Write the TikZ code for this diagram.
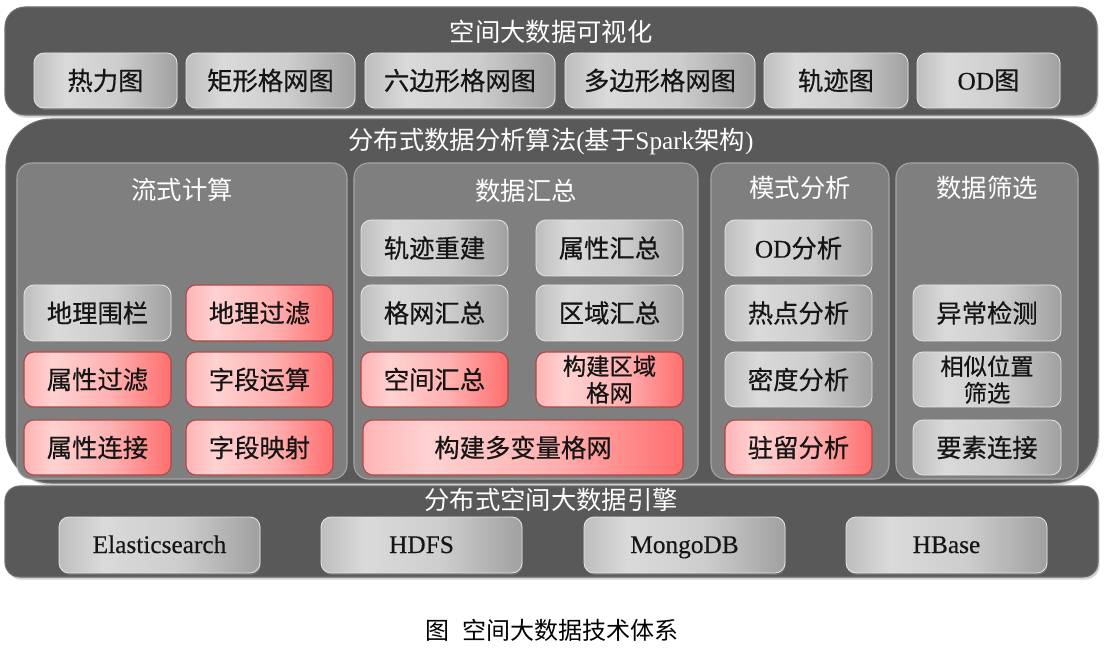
\documentclass[tikz,border=0pt]{standalone}
\usepackage{fontspec}
\setmainfont{Noto Sans CJK SC}
\newfontfamily\lat{Liberation Serif}
\newfontfamily\latb{Liberation Serif}[FakeBold=0.4]
\newfontfamily\btnf{Noto Sans CJK SC}[FakeBold=0.5]
\newfontfamily\song{Noto Sans CJK SC}
\usetikzlibrary{shadows}
\definecolor{panelc}{HTML}{595959}
\definecolor{panelb}{HTML}{6E6E6E}
\definecolor{subc}{HTML}{7F7F7F}
\definecolor{subb}{HTML}{A6A6A6}
\definecolor{gA}{HTML}{BEBEBE}
\definecolor{gB}{HTML}{DADADA}
\definecolor{gC}{HTML}{CDCDCD}
\definecolor{gD}{HTML}{A0A0A0}
\definecolor{gbord}{HTML}{E6E6E6}
\definecolor{rA}{HTML}{FFB4B4}
\definecolor{rB}{HTML}{FFD2D2}
\definecolor{rC}{HTML}{FFB0B0}
\definecolor{rD}{HTML}{FF6E6E}
\definecolor{rbord}{HTML}{B04545}
\definecolor{txt}{HTML}{151515}
\pgfdeclarehorizontalshading{gshade}{100bp}{color(0bp)=(gA); color(25bp)=(gA); color(36bp)=(gB); color(55bp)=(gC); color(75bp)=(gD); color(100bp)=(gD)}
\pgfdeclarehorizontalshading{rshade}{100bp}{color(0bp)=(rA); color(25bp)=(rA); color(35bp)=(rB); color(55bp)=(rC); color(75bp)=(rD); color(100bp)=(rD)}
\newcommand{\bx}[6]{\node[#1, minimum width={(#5-#3)*0.75pt}, minimum height={(#6-#4)*0.75pt}] (#2) at ({(#3+#5)/2},{(#4+#6)/2})}
\tikzset{
  panel/.style={draw=panelb, line width=0.8pt, fill=panelc, inner sep=0pt,
    drop shadow={opacity=0.35, shadow xshift=1.2pt, shadow yshift=-2pt}},
  subpanel/.style={draw=subb, line width=0.8pt, fill=subc, rounded corners=11pt, inner sep=0pt},
  btn/.style={rounded corners=7.5pt, inner sep=0pt, align=center, text=txt,
    font=\btnf\fontsize{19pt}{22pt}\selectfont,
    drop shadow={opacity=0.55, shadow xshift=0.6pt, shadow yshift=-1.5pt}},
  gbtn/.style={btn, shading=gshade, draw=gbord, line width=0.6pt},
  rbtn/.style={btn, shading=rshade, draw=rbord, line width=0.8pt},
  twoline/.style={font=\btnf\fontsize{17.5pt}{22pt}\selectfont},
  latbtn/.style={gbtn, font=\latb\fontsize{19pt}{22pt}\selectfont, text height=13pt, text depth=1pt},
  ttl/.style={text=white, inner sep=0pt, font=\fontsize{19pt}{22pt}\selectfont},
}
\begin{document}
\begin{tikzpicture}[x=0.75pt,y=-0.75pt]
\useasboundingbox (0,0) rectangle (1106,655);
\fill[white] (0,0) rectangle (1106,655);
% ---------- top panel ----------
\bx{panel, rounded corners=15pt}{toppanel}{5}{7}{1097}{115} {};
\node[ttl] (toptitle) at (551,32) {空间大数据可视化};
\bx{gbtn}{v1}{34}{53}{177}{108} {热力图};
\bx{gbtn}{v2}{186}{53}{355}{108} {矩形格网图};
\bx{gbtn}{v3}{365}{53}{555}{108} {六边形格网图};
\bx{gbtn}{v4}{565}{53}{755}{108} {多边形格网图};
\bx{gbtn}{v5}{764}{53}{908}{108} {轨迹图};
\bx{gbtn}{v6}{917}{53}{1060}{108} {{\latb OD}图};
% ---------- middle panel ----------
\bx{panel, rounded corners=34pt}{midpanel}{6}{119}{1098}{483} {};
\node[ttl] (midtitle) at (551,141) {分布式数据分析算法{\lat (}基于{\lat Spark}架构{\lat )}};
\bx{subpanel}{subA}{17}{163}{347}{479} {};
\bx{subpanel}{subB}{354}{163}{698}{479} {};
\bx{subpanel}{subC}{711}{163}{889}{479} {};
\bx{subpanel}{subD}{896}{163}{1078}{479} {};
\node[ttl] (titA) at (182,190) {流式计算};
\node[ttl] (titB) at (526,191) {数据汇总};
\node[ttl] (titC) at (800,188) {模式分析};
\node[ttl] (titD) at (987,188) {数据筛选};
% stream computing
\bx{gbtn}{a1}{24}{285}{171}{341} {地理围栏};
\bx{rbtn}{a2}{186}{285}{333}{341} {地理过滤};
\bx{rbtn}{a3}{24}{352}{171}{407} {属性过滤};
\bx{rbtn}{a4}{186}{352}{333}{407} {字段运算};
\bx{rbtn}{a5}{24}{420}{171}{475} {属性连接};
\bx{rbtn}{a6}{186}{420}{333}{475} {字段映射};
% data summary
\bx{gbtn}{b1}{361}{220}{508}{276} {轨迹重建};
\bx{gbtn}{b2}{536}{220}{683}{276} {属性汇总};
\bx{gbtn}{b3}{361}{285}{508}{341} {格网汇总};
\bx{gbtn}{b4}{536}{285}{683}{341} {区域汇总};
\bx{rbtn}{b5}{361}{352}{508}{407} {空间汇总};
\bx{rbtn, twoline}{b6}{536}{352}{683}{407} {构建区域\\[-2pt]格网};
\bx{rbtn}{b7}{363}{420}{683}{475} {构建多变量格网};
% pattern analysis
\bx{gbtn}{c1}{725}{220}{872}{276} {{\latb OD}分析};
\bx{gbtn}{c2}{725}{285}{872}{341} {热点分析};
\bx{gbtn}{c3}{725}{352}{872}{407} {密度分析};
\bx{rbtn}{c4}{725}{420}{872}{475} {驻留分析};
% data filtering
\bx{gbtn}{d1}{913}{285}{1061}{341} {异常检测};
\bx{gbtn, twoline}{d2}{913}{352}{1061}{407} {相似位置\\[-2pt]筛选};
\bx{gbtn}{d3}{913}{420}{1061}{475} {要素连接};
% ---------- bottom panel ----------
\bx{panel, rounded corners=11pt}{botpanel}{5}{486}{1098}{577} {};
\node[ttl] (bottitle) at (551,500) {分布式空间大数据引擎};
\bx{latbtn}{e1}{59}{517}{260}{573} {Elasticsearch};
\bx{latbtn}{e2}{321}{517}{522}{573} {HDFS};
\bx{latbtn}{e3}{584}{517}{785}{573} {MongoDB};
\bx{latbtn}{e4}{846}{517}{1047}{573} {HBase};
% ---------- caption ----------
\node[inner sep=0pt, text=black, font=\song\fontsize{18pt}{22pt}\selectfont] (caption) at (552,630) {图\hspace{0.55em}空间大数据技术体系};
\end{tikzpicture}
\end{document}
